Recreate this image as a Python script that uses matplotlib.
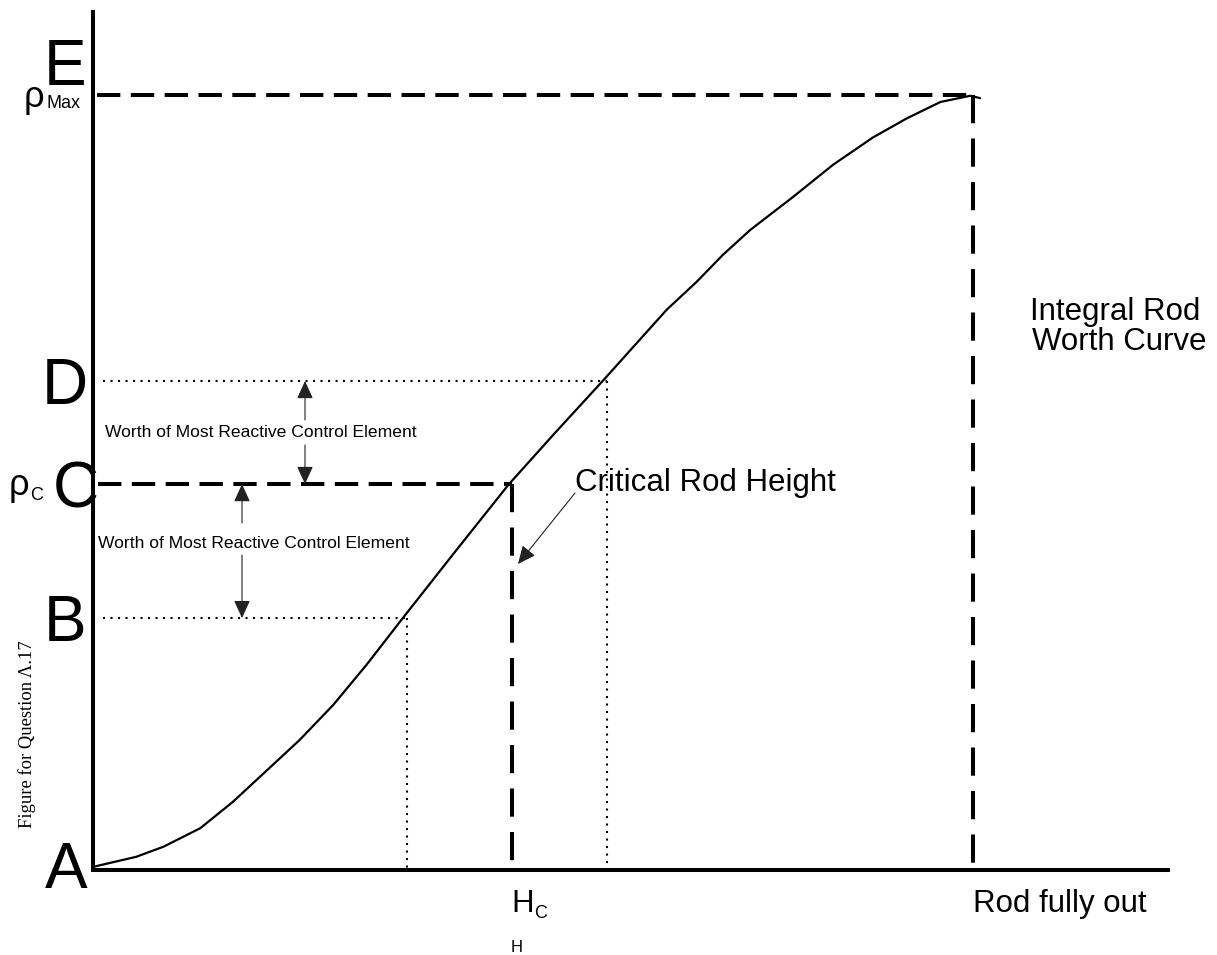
import matplotlib
matplotlib.use("Agg")
import matplotlib.pyplot as plt

# ---------------- data (normalised units) ----------------
# rod height (fraction of fully withdrawn) and integral rod worth (fraction of rho_max)
rod_height = [0.000, 0.049, 0.080, 0.122, 0.159, 0.198, 0.235, 0.273, 0.311, 0.352,
              0.411, 0.472, 0.525, 0.580, 0.614, 0.652, 0.686, 0.716, 0.747, 0.795,
              0.841, 0.886, 0.925, 0.963, 0.997, 1.008]
rod_worth = [0.004, 0.017, 0.030, 0.054, 0.088, 0.129, 0.168, 0.213, 0.265, 0.325,
             0.410, 0.497, 0.564, 0.632, 0.675, 0.723, 0.759, 0.794, 0.826, 0.868,
             0.910, 0.945, 0.970, 0.991, 0.999, 0.996]

level_names = ["A", "B", "C", "D", "E"]
level_worth = [0.0, 0.325, 0.498, 0.631, 1.0]          # reactivity levels
level_height = [0.0, 0.357, 0.476, 0.584, 1.0]         # rod heights of the drop lines
h_critical = 0.476
rho_c = 0.498
rho_max = 1.0
h_out = 1.0

# ---------------- layout helpers (pixel -> data) ----------------
X0, SX = 93.0, 880.0
Y0, SY = 870.0, 775.0
def px(x):
    return (x - X0) / SX
def py(y):
    return (Y0 - y) / SY

plt.rcParams['font.family'] = ['Liberation Sans', 'DejaVu Sans']

fig = plt.figure(figsize=(12.17, 9.55), dpi=100)
ax = fig.add_axes([0, 0, 1, 1])
ax.set_xlim(px(0), px(1217))
ax.set_ylim(py(955), py(0))
ax.axis('off')

# axes lines
ax.plot([0, 0], [py(872), py(10)], color='black', lw=2.9, solid_capstyle='butt')
ax.plot([px(91), px(1170)], [0, 0], color='black', lw=2.9, solid_capstyle='butt')

# curve
ax.plot(rod_height, rod_worth, color='black', lw=1.6, solid_joinstyle='round',
        solid_capstyle='round')

dash_lw = 2.9
dash_pat = (5.8, 2.6)
dot_lw = 1.5
dot_pat = (1.0, 2.6)

# rho max (E) dashed line and rod fully out vertical
E = rho_max
ax.plot([px(97), h_out], [E, E], color='black', lw=dash_lw, dashes=dash_pat)
ax.plot([h_out, h_out], [E, 0], color='black', lw=dash_lw, dashes=(7.0, 3.8))

# C dashed (critical)
C = rho_c
ax.plot([px(98), h_critical], [C, C], color='black', lw=dash_lw, dashes=dash_pat)
ax.plot([h_critical, h_critical], [C, 0], color='black', lw=dash_lw, dashes=(7.0, 3.8))

# B and D dotted
for i in (1, 3):
    lv, hv = level_worth[i], level_height[i]
    ax.plot([px(103), hv], [lv, lv], color='black', lw=dot_lw, dashes=dot_pat)
    ax.plot([hv, hv], [lv, 0], color='black', lw=dot_lw, dashes=dot_pat)

# big letters
big = 46
letter_pos = {"A": (66, 888), "B": (65, 641), "C": (76, 507), "D": (65, 404), "E": (65, 85)}
for name in level_names:
    x, y = letter_pos[name]
    ax.text(px(x), py(y), name, fontsize=big, ha='center', va='baseline')

# rho labels
ax.text(px(24), py(107), "ρ", fontsize=26, ha='left', va='baseline')
ax.text(px(46), py(108), "Max", fontsize=13, ha='left', va='baseline')
ax.text(px(9), py(495), "ρ", fontsize=26, ha='left', va='baseline')
ax.text(px(30), py(500), "C", fontsize=13, ha='left', va='baseline')

# H_C and H
ax.text(px(511), py(912), "H", fontsize=22.5, ha='left', va='baseline')
ax.text(px(534), py(918), "C", fontsize=13, ha='left', va='baseline')
ax.text(px(511), py(952), "H", fontsize=12, ha='left', va='baseline')

# Rod fully out
ax.text(px(973), py(912), "Rod fully out", fontsize=22.5, ha='left', va='baseline')

# Integral Rod Worth Curve
ax.text(px(1030), py(320), "Integral Rod", fontsize=22.5, ha='left', va='baseline')
ax.text(px(1032), py(350), "Worth Curve", fontsize=22.5, ha='left', va='baseline')

# Critical Rod Height
ax.text(px(575), py(491), "Critical Rod Height", fontsize=22.5, ha='left', va='baseline')

# Worth of most reactive control element labels
ax.text(px(105), py(437), "Worth of Most Reactive Control Element", fontsize=12.6,
        ha='left', va='baseline')
ax.text(px(98), py(548), "Worth of Most Reactive Control Element", fontsize=12.6,
        ha='left', va='baseline')

arrow_kw = dict(arrowstyle='-|>,head_length=0.55,head_width=0.25', lw=0.8, color='#222222',
                shrinkA=0, shrinkB=0, mutation_scale=20)
D = level_worth[3]
B = level_worth[1]
ax.annotate('', xy=(px(305), D), xytext=(px(305), py(420)), arrowprops=arrow_kw)
ax.annotate('', xy=(px(305), C), xytext=(px(305), py(445)), arrowprops=arrow_kw)
ax.annotate('', xy=(px(242), C), xytext=(px(242), py(523)), arrowprops=arrow_kw)
ax.annotate('', xy=(px(242), B), xytext=(px(242), py(555)), arrowprops=arrow_kw)
ax.annotate('', xy=(px(518), py(564)), xytext=(px(575), py(493)), arrowprops=arrow_kw)

# rotated figure caption
ax.text(px(27), py(734), "Figure for Question Λ.17", fontsize=13.4, rotation=90,
        ha='center', va='center', family=['Liberation Serif', 'DejaVu Serif'])

fig.savefig("out.png", dpi=100)
